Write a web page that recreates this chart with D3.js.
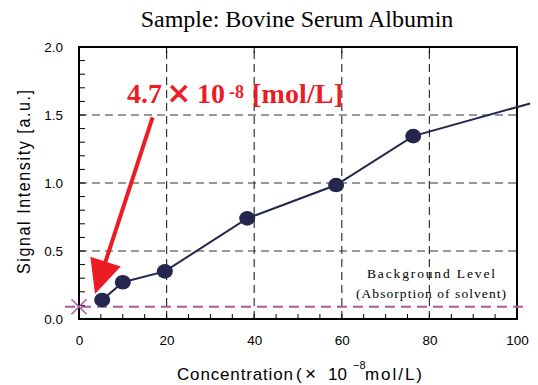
<!DOCTYPE html>
<html>
<head>
<meta charset="utf-8">
<script src="https://cdn.jsdelivr.net/npm/d3@7"></script>
<style>
  body { margin: 0; background: #fff; }
  svg { display: block; }
  .tick text { font-family: "Liberation Sans", Arial, sans-serif; font-size: 13.5px; fill: #000; }
</style>
</head>
<body>
<div class="container"></div>
<script>
// measured points (concentration x10^-8 mol/L, signal a.u.)
var conc = [5.3, 10, 19.6, 38.4, 58.7, 76.3];
var signal = [0.14, 0.27, 0.35, 0.74, 0.985, 1.345];
// the trend line runs on past the right edge of the frame
var tailConc = [103];
var tailSignal = [1.585];
var background = 0.09;
var xTicks = [0, 20, 40, 60, 80, 100];
var yTicks = [0, 0.5, 1.0, 1.5, 2.0];

var W = 538, H = 385;
var translate = (x, y) => `translate(${ x },${ y })`;
var sans = '"Liberation Sans", Arial, sans-serif';
var serif = '"Liberation Serif", "Times New Roman", serif';

var x = d3.scaleLinear().domain([0, 100]).range([79, 517]);
var y = d3.scaleLinear().domain([0, 2]).range([319, 47]);

var svg = d3.select('.container').append('svg')
    .attr('width', W)
    .attr('height', H);

// title
svg.append('text')
    .attr('x', 297).attr('y', 27)
    .attr('text-anchor', 'middle')
    .style('font-family', serif)
    .style('font-size', '24px')
    .text('Sample: Bovine Serum Albumin');

// grid
var dash = '8,5';
svg.append('g').selectAll('line')
    .data(xTicks.slice(1, -1))
    .enter().append('line')
    .attr('x1', x).attr('x2', x)
    .attr('y1', y(0)).attr('y2', y(2))
    .attr('stroke', '#333').attr('stroke-width', 1.2)
    .attr('stroke-dasharray', dash);

svg.append('g').selectAll('line')
    .data(yTicks.slice(1, -1))
    .enter().append('line')
    .attr('x1', x(0)).attr('x2', x(100))
    .attr('y1', y).attr('y2', y)
    .attr('stroke', '#333').attr('stroke-width', 1.2)
    .attr('stroke-dasharray', dash);

// axes with inward ticks
var xAxis = d3.axisBottom(x).tickValues(xTicks).tickFormat(d3.format('d')).tickSize(0).tickPadding(16);
svg.append('g').attr('transform', translate(0, y(0))).call(xAxis)
    .call(g => g.select('.domain').remove());

var yAxis = d3.axisLeft(y).tickValues(yTicks).tickFormat(d3.format('.1f')).tickSize(0).tickPadding(16);
svg.append('g').attr('transform', translate(x(0), 0)).call(yAxis)
    .call(g => g.select('.domain').remove());

svg.append('g').selectAll('line')
    .data(d3.range(0, 101, 5))
    .enter().append('line')
    .attr('x1', x).attr('x2', x)
    .attr('y1', y(0)).attr('y2', y(0) - 5)
    .attr('stroke', '#000').attr('stroke-width', 1);

svg.append('g').selectAll('line')
    .data(xTicks.slice(1, -1))
    .enter().append('line')
    .attr('x1', x).attr('x2', x)
    .attr('y1', y(2)).attr('y2', y(2) + 6)
    .attr('stroke', '#000').attr('stroke-width', 1);

svg.append('g').selectAll('line')
    .data(d3.range(0, 21).map(d => d / 10))
    .enter().append('line')
    .attr('x1', x(0)).attr('x2', x(0) + 6)
    .attr('y1', y).attr('y2', y)
    .attr('stroke', '#000').attr('stroke-width', 1);

svg.append('rect')
    .attr('x', x(0)).attr('y', y(2))
    .attr('width', x(100) - x(0)).attr('height', y(0) - y(2))
    .attr('fill', 'none').attr('stroke', '#000').attr('stroke-width', 2);

// axis titles (the original font is tall and narrow)
svg.append('text')
    .attr('transform', translate(30, 182) + ' rotate(-90) scale(1,1.2)')
    .attr('text-anchor', 'middle')
    .attr('textLength', 184)
    .style('font-family', sans)
    .style('font-size', '16px')
    .text('Signal Intensity [a.u.]');

var xl = svg.append('text')
    .style('font-family', sans)
    .style('font-size', '17px');
xl.append('tspan').attr('x', 177).attr('y', 380).attr('textLength', 116).text('Concentration');
xl.append('tspan').attr('x', 296).attr('y', 380).text('(');
xl.append('tspan').attr('x', 305).attr('y', 380).style('font-size', '19px').text('\u00d7');
xl.append('tspan').attr('x', 328).attr('y', 380).text('10');
xl.append('tspan').attr('x', 353).attr('y', 369).style('font-size', '11px').text('\u22128');
xl.append('tspan').attr('x', 365).attr('y', 380).attr('textLength', 57).text('mol/L)');

// background level
var purple = '#a65aa8';
svg.append('line')
    .attr('x1', x(0) - 14).attr('x2', x(100) + 10)
    .attr('y1', y(background)).attr('y2', y(background))
    .attr('stroke', purple).attr('stroke-width', 2)
    .attr('stroke-dasharray', '10,6');

svg.append('path')
    .attr('d', d3.symbol(d3.symbolX, 150)())
    .attr('transform', translate(x(0), y(background)))
    .attr('fill', 'none').attr('stroke', purple).attr('stroke-width', 1.5);

var bg = svg.append('text')
    .style('font-family', serif)
    .style('font-size', '13.5px');
bg.append('tspan').attr('x', 367).attr('y', 278).attr('textLength', 128).text('Background Level');
bg.append('tspan').attr('x', 356).attr('y', 298).attr('textLength', 150).text('(Absorption of solvent)');

// data line
var navy = '#25264e';
var pts = conc.map((c, i) => [c, signal[i]]);
var tail = tailConc.map((c, i) => [c, tailSignal[i]]);
var line = d3.line().x(d => x(d[0])).y(d => y(d[1]));

svg.append('path')
    .attr('d', line(pts.concat(tail)))
    .attr('fill', 'none').attr('stroke', navy).attr('stroke-width', 2);

svg.append('g').selectAll('ellipse')
    .data(pts)
    .enter().append('ellipse')
    .attr('cx', d => x(d[0])).attr('cy', d => y(d[1]))
    .attr('rx', 8).attr('ry', 7.3)
    .attr('fill', navy);

// detection limit annotation
var red = '#ec1c24';
var lbl = svg.append('text')
    .attr('fill', red)
    .style('font-family', serif)
    .style('font-weight', 'bold')
    .style('font-size', '28px');
lbl.append('tspan').attr('x', 127).attr('y', 103).text('4.7');
lbl.append('tspan').attr('x', 168).attr('y', 106).style('font-family', sans).style('font-weight', 'normal')
    .style('font-size', '37px').attr('stroke', red).attr('stroke-width', 0.8).text('\u00d7');
lbl.append('tspan').attr('x', 197).attr('y', 103).text('10');
lbl.append('tspan').attr('x', 229).attr('y', 98).style('font-size', '18px').text('-8');
lbl.append('tspan').attr('x', 252).attr('y', 103).attr('textLength', 91).text('[mol/L]');

var a0 = [x(16.8), y(1.483)], a1 = [x(3.65), y(0.184)];
var dx = a1[0] - a0[0], dy = a1[1] - a0[1], len = Math.hypot(dx, dy);
var ux = dx / len, uy = dy / len, headL = 34, headW = 16;
var bx = a1[0] - ux * headL, by = a1[1] - uy * headL;

svg.append('line')
    .attr('x1', a0[0]).attr('y1', a0[1])
    .attr('x2', bx + ux * 4).attr('y2', by + uy * 4)
    .attr('stroke', red).attr('stroke-width', 4);

svg.append('path')
    .attr('d', `M${a1[0]},${a1[1]}L${bx - uy * headW},${by + ux * headW}L${bx + uy * headW},${by - ux * headW}Z`)
    .attr('fill', red);
</script>
</body>
</html>
